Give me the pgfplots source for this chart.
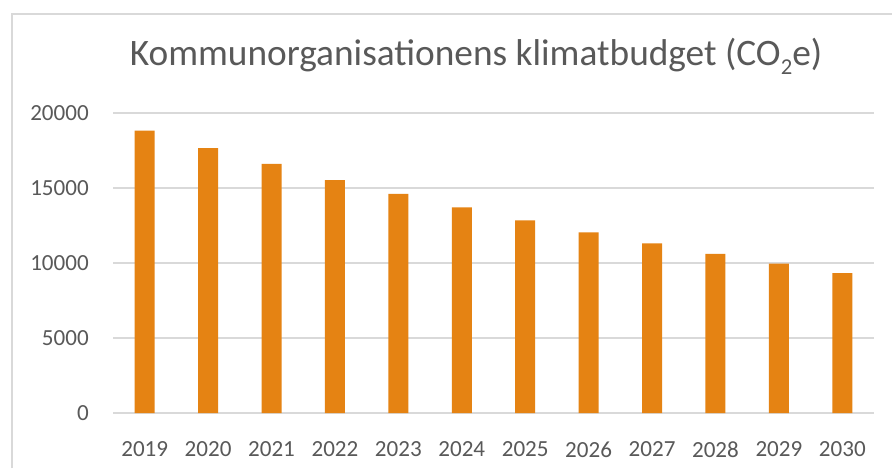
\documentclass[border=0pt]{standalone}
\usepackage{pgfplots}
\pgfplotsset{compat=1.18}
\usepackage{fontspec}
\setmainfont{Carlito}
\definecolor{barorange}{RGB}{229,131,19}
\definecolor{txtgray}{RGB}{89,89,89}
\definecolor{gridgray}{RGB}{217,217,217}
\begin{document}
\begin{tikzpicture}
\path[use as bounding box] (0,0) rectangle (669pt,351pt);
\fill[white] (0,0) rectangle (669pt,351pt);
\draw[gridgray, line width=1.1pt] (9pt,0) -- (9pt,340.5pt) -- (669pt,340.5pt);
\node[anchor=base, text=txtgray, font=\fontsize{28}{32}\selectfont] at (357pt,301.5pt) {Kommunorganisationens klimatbudget (CO\raisebox{-6.5pt}{\fontsize{17}{18}\selectfont 2}e)};
\begin{axis}[
  at={(84.75pt,41.25pt)}, anchor=south west,
  scale only axis, width=570.75pt, height=225pt,
  xmin=-0.5, xmax=11.5, ymin=0, ymax=20000,
  axis line style={draw=none},
  scaled y ticks=false,
  xtick={0,...,11},
  xticklabels={2019,2020,2021,2022,2023,2024,2025,2026,2027,2028,2029,2030},
  ytick={0,5000,10000,15000,20000},
  yticklabels={0,5000,10000,15000,20000},
  tick style={draw=none},
  ymajorgrids, grid style={gridgray, line width=1.1pt},
  xticklabel style={inner sep=0pt, anchor=north, yshift=-17pt, text=txtgray, font=\fontsize{17.3}{20}\selectfont},
  yticklabel style={inner sep=0pt, anchor=east, xshift=-18pt, text=txtgray, font=\fontsize{17.3}{20}\selectfont},
  ybar, bar width=15pt,
  clip=false,
]
\addplot[fill=barorange, draw=none] coordinates {
(0,18820) (1,17650) (2,16600) (3,15530) (4,14600) (5,13710)
(6,12840) (7,12040) (8,11310) (9,10600) (10,9960) (11,9330)};
\end{axis}
\end{tikzpicture}
\end{document}
